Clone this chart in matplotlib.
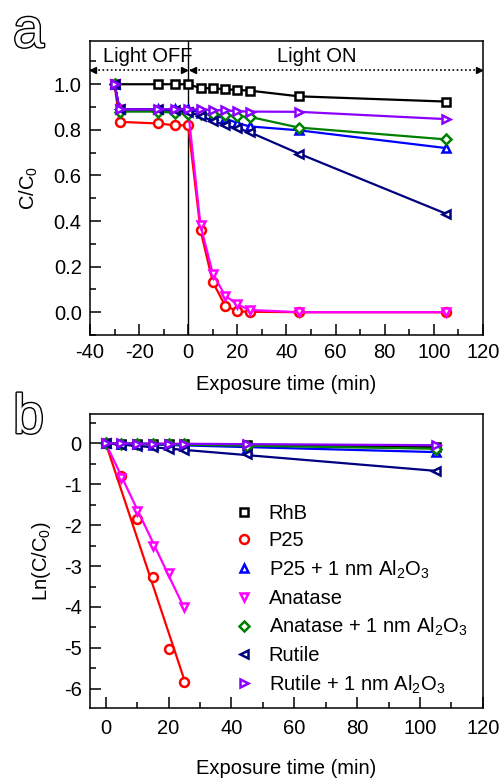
"""Photodegradation of RhB: C/C0 vs time (a) and Ln(C/C0) kinetics (b)."""
import matplotlib

matplotlib.use("Agg")
import matplotlib.patheffects as pe
import matplotlib.pyplot as plt
import numpy as np
from matplotlib.ticker import MultipleLocator

plt.rcParams["font.family"] = ["Liberation Sans", "DejaVu Sans"]
plt.rcParams["mathtext.fontset"] = "custom"
plt.rcParams["mathtext.rm"] = "Liberation Sans"
plt.rcParams["mathtext.it"] = "Liberation Sans"
plt.rcParams["axes.unicode_minus"] = False

FS = 14.5

# ---- data -------------------------------------------------------------
labels = ["RhB", "P25", "P25 + 1 nm Al$_2$O$_3$", "Anatase",
          "Anatase + 1 nm Al$_2$O$_3$", "Rutile", "Rutile + 1 nm Al$_2$O$_3$"]
colors = ["#000000", "#ff0000", "#0000ff", "#ff00ff", "#008000", "#000080", "#8b00ff"]
markers = ["s", "o", "^", "v", "D", "<", ">"]

# panel a: C/C0 over the full run (dark adsorption + light)
time_rhb = [-30, -12.5, -5.5, 0, 5, 10, 15, 20, 25, 45, 105]
time_a = [-30, -28, -12.5, -5.5, 0, 5, 10, 15, 20, 25, 45, 105]
rhb_a = [1.0, 1.0, 1.0, 1.0, 0.983, 0.982, 0.978, 0.975, 0.972, 0.947, 0.924]
p25_a = [1.0, 0.835, 0.828, 0.82, 0.82, 0.359, 0.132, 0.029, 0.004, 0.002, 0.0, 0.0]
p25al_a = [1.0, 0.89, 0.89, 0.89, 0.89, 0.875, 0.865, 0.85, 0.83, 0.815, 0.798, 0.72]
anatase_a = [1.0, 0.89, 0.885, 0.88, 0.88, 0.381, 0.169, 0.073, 0.034, 0.01, 0.0, 0.0]
anatal_a = [1.0, 0.88, 0.88, 0.875, 0.87, 0.87, 0.868, 0.865, 0.86, 0.857, 0.81, 0.758]
rutile_a = [1.0, 0.89, 0.89, 0.885, 0.88, 0.86, 0.84, 0.82, 0.806, 0.79, 0.696, 0.432]
rutileal_a = [1.0, 0.89, 0.89, 0.89, 0.89, 0.89, 0.887, 0.885, 0.882, 0.88, 0.879, 0.847]

# panel b: Ln(C/C0) under light
time_b = [0, 5, 10, 15, 20, 25, 45, 105]
rhb_b = [0, -0.015, -0.017, -0.02, -0.023, -0.028, -0.05, -0.078]
p25_b = [0, -0.80, -1.85, -3.27, -5.02, -5.84]
p25al_b = [0, -0.01, -0.02, -0.03, -0.05, -0.07, -0.11, -0.20]
anatase_b = [0, -0.85, -1.65, -2.52, -3.18, -3.99]
anatal_b = [0, -0.005, -0.01, -0.015, -0.02, -0.025, -0.07, -0.13]
rutile_b = [0, -0.03, -0.06, -0.10, -0.13, -0.16, -0.27, -0.68]
rutileal_b = [0, 0, -0.005, -0.005, -0.01, -0.01, -0.01, -0.05]

series_a = [rhb_a, p25_a, p25al_a, anatase_a, anatal_a, rutile_a, rutileal_a]
series_b = [rhb_b, p25_b, p25al_b, anatase_b, anatal_b, rutile_b, rutileal_b]


def style_axes(ax):
    ax.tick_params(which="both", direction="in", top=False, right=False,
                   labelsize=FS, width=1.1, pad=6)
    ax.tick_params(which="major", length=8)
    ax.tick_params(which="minor", length=4.5)
    for sp in ax.spines.values():
        sp.set_linewidth(1.1)


def mstyle(m):
    return dict(markersize=5.4 if m == "D" else 6.4, markeredgewidth=1.8,
                markerfacecolor="white")


fig = plt.figure(figsize=(5.03, 7.78), dpi=100)
ax1 = fig.add_axes([0.179, 0.5694, 0.781, 0.378])
ax2 = fig.add_axes([0.179, 0.090, 0.781, 0.378])

# ---- panel a ----------------------------------------------------------
for i, (ys, c, m) in enumerate(zip(series_a, colors, markers)):
    tt = time_rhb if i == 0 else time_a
    ax1.plot(tt, ys, color=c, marker=m, lw=1.6, **mstyle(m))
ax1.axvline(0, color="black", lw=1.0, zorder=1)

ax1.set_xlim(-40, 120)
ax1.set_ylim(-0.1, 1.19)
ax1.xaxis.set_major_locator(MultipleLocator(20))
ax1.xaxis.set_minor_locator(MultipleLocator(10))
ax1.yaxis.set_minor_locator(MultipleLocator(0.1))
ax1.set_yticks([0.0, 0.2, 0.4, 0.6, 0.8, 1.0])
ax1.set_yticklabels(["0.0", "0.2", "0.4", "0.6", "0.8", "1.0"])
style_axes(ax1)
ax1.set_xlabel("Exposure time (min)", fontsize=FS, labelpad=9)
ax1.set_ylabel("C/C$_0$", fontsize=FS, labelpad=10)

# light off / on arrows
ya = 1.062
for x0, x1 in [(-40, -0.6), (0.6, 119.5)]:
    ax1.plot([x0, x1], [ya, ya], color="black", lw=1.2, ls=(0, (1, 1.5)), zorder=4)
    ax1.plot([x0 + 1.2], [ya], marker="<", color="black", ms=4.5, zorder=4)
    ax1.plot([x1 - 1.2], [ya], marker=">", color="black", ms=4.5, zorder=4)
ax1.text(-16.5, 1.12, "Light OFF", fontsize=FS, ha="center", va="center")
ax1.text(52.5, 1.12, "Light ON", fontsize=FS, ha="center", va="center")

# ---- panel b ----------------------------------------------------------
handles = []
for ys, c, m, lab in zip(series_b, colors, markers, labels):
    t = np.array(time_b[:len(ys)], dtype=float)
    y = np.array(ys, dtype=float)
    k = np.sum(t * y) / np.sum(t * t)
    ax2.plot([0, t[-1]], [0, k * t[-1]], color=c, lw=1.6)
    h, = ax2.plot(t, y, ls="none", color=c, marker=m, label=lab, **mstyle(m))
    handles.append(h)

ax2.set_xlim(-5, 120)
ax2.set_ylim(-6.47, 0.72)
ax2.xaxis.set_major_locator(MultipleLocator(20))
ax2.xaxis.set_minor_locator(MultipleLocator(10))
ax2.yaxis.set_major_locator(MultipleLocator(1))
ax2.yaxis.set_minor_locator(MultipleLocator(0.5))
style_axes(ax2)
ax2.tick_params(axis="x", pad=8)
ax2.set_xlabel("Exposure time (min)", fontsize=FS, labelpad=15)
ax2.set_ylabel("Ln(C/C$_0$)", fontsize=FS, labelpad=8)

ax2.legend(handles=handles, loc="upper left", bbox_to_anchor=(0.345, 0.72),
           frameon=False, fontsize=FS, handlelength=1.0, handletextpad=0.75,
           labelspacing=0.40, borderaxespad=0)

# panel letters (outlined)
for txt, yb in [("a", 0.9396), ("b", 0.4434)]:
    fig.text(0.026, yb, txt, fontsize=40, color="white", ha="left", va="baseline",
             path_effects=[pe.Stroke(linewidth=2.0, foreground="black"), pe.Normal()])

fig.savefig("out.png", dpi=100)
